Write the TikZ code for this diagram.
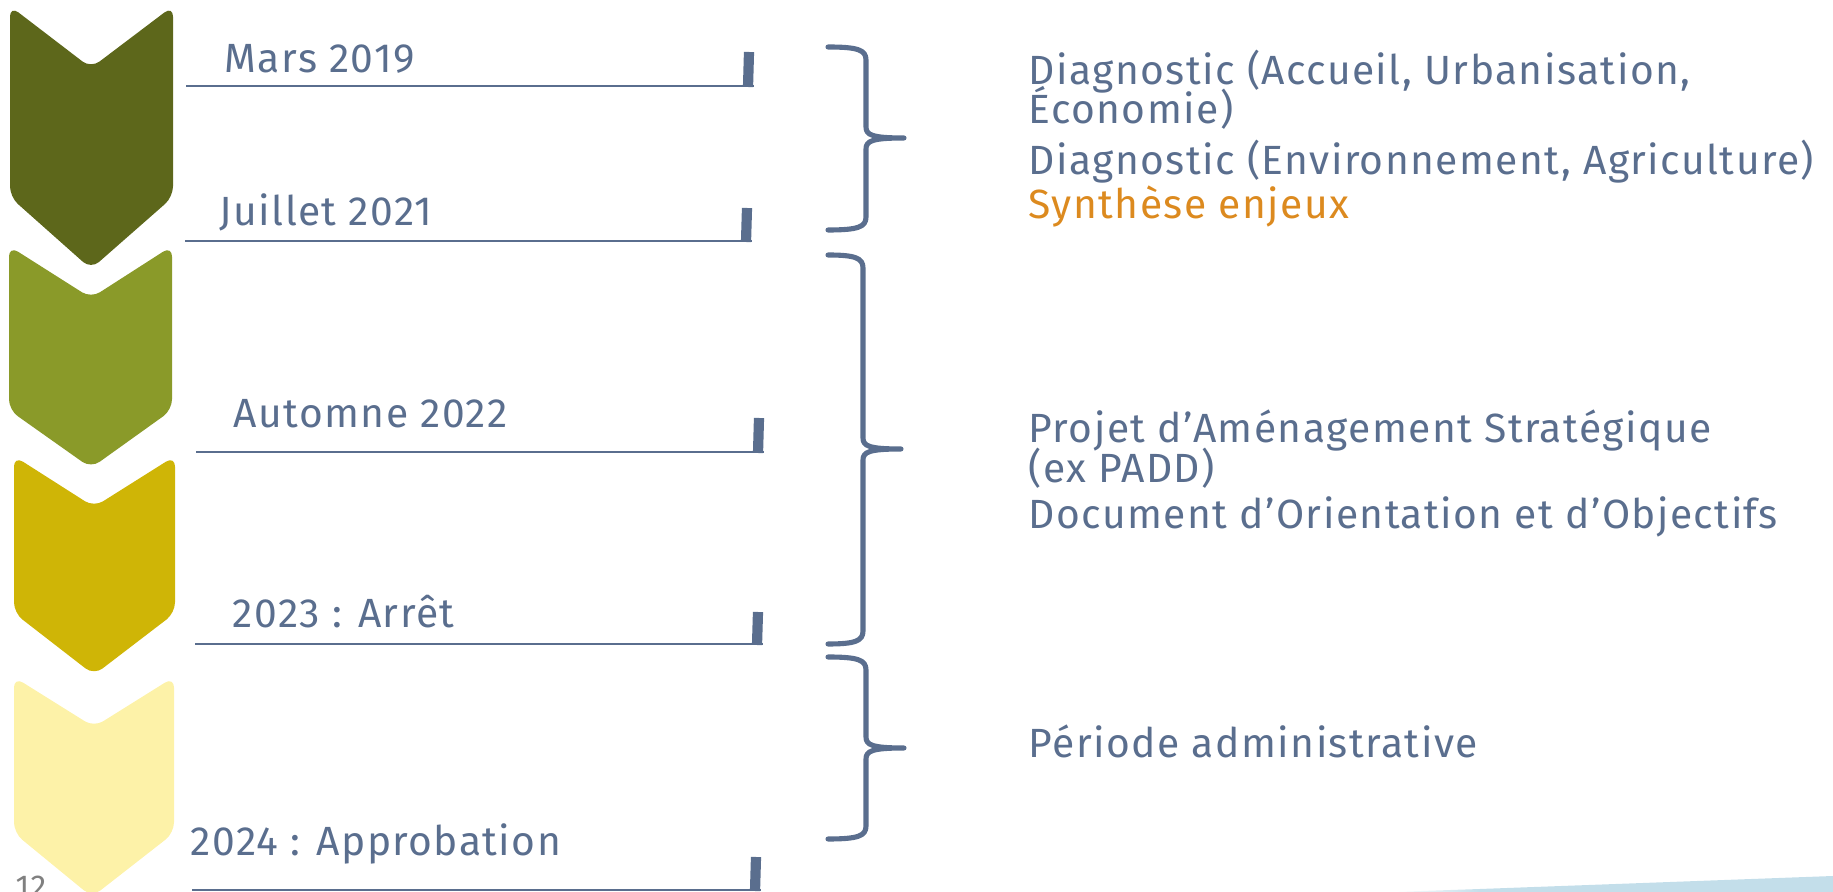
\documentclass[tikz,border=0pt]{standalone}
\usepackage{fontspec}
\setmainfont{Fira Sans}[LetterSpace=3.5]
\definecolor{slate}{HTML}{5A6E8E}
\definecolor{orangetxt}{HTML}{DC8A1F}
\definecolor{olivea}{HTML}{5D671B}
\definecolor{oliveb}{HTML}{8A9A29}
\definecolor{mustard}{HTML}{CFB506}
\definecolor{paleyellow}{HTML}{FDF2A8}
\definecolor{swoosh}{HTML}{C3DEEA}

\begin{document}
\begin{tikzpicture}[x=0.01cm, y=-0.01cm, font=\fontsize{11.6}{13}\selectfont,
  datelbl/.style={anchor=base west, text=slate, inner sep=0pt},
  phase/.style={anchor=base west, text=slate, inner sep=0pt},
  timerule/.style={slate, line width=0.6pt},
  tickbar/.style={slate, line width=2.9pt},
  bracepath/.style={slate, line width=1.45pt, line cap=round, line join=round}]

  \useasboundingbox (0,0) rectangle (1833,892);

  \fill[olivea, rounded corners=3pt] (10,6) -- (91,68) -- (173,6) -- (173,197) -- (91,269) -- (10,197) -- cycle;
  \fill[oliveb, rounded corners=3pt] (9,246) -- (91,298) -- (172,246) -- (172,410) -- (91,468) -- (9,410) -- cycle;
  \fill[mustard, rounded corners=3pt] (14,456) -- (94,507) -- (175,456) -- (175,613) -- (94,675) -- (14,613) -- cycle;
  \fill[paleyellow, rounded corners=3pt] (14,677) -- (94,727) -- (174,677) -- (174,833) -- (92,897) -- (14,833) -- cycle;

  \draw[timerule] (186,86) -- (754,86);
  \draw[tickbar] (748,87) -- (749,52);
  \draw[timerule] (185,241) -- (752,241);
  \draw[tickbar] (746,242) -- (747,208);
  \draw[timerule] (196,452) -- (764,452);
  \draw[tickbar] (758,453) -- (759,418);
  \draw[timerule] (195,644) -- (763,644);
  \draw[tickbar] (757,645) -- (758,612);
  \draw[timerule] (192,890) -- (761,890);
  \draw[tickbar] (755,891) -- (756,857);

  \node[datelbl] (mars) at (224,73) {Mars 2019};
  \node[datelbl] (juillet) at (219,226) {Juillet 2021};
  \node[datelbl] (automne) at (233,428) {Automne 2022};
  \node[datelbl] (arret) at (232,628) {2023 : Arrêt};
  \node[datelbl] (approb) at (190,856) {2024 : Approbation};

  \draw[bracepath] (828,47) .. controls (858,47) and (866,50) .. (866,60) -- (866,127)
    .. controls (866,135) and (872,138) .. (904,138) .. controls (872,138) and (866,141) .. (866,149)
    -- (866,217) .. controls (866,227) and (858,230) .. (828,230);
  \draw[bracepath] (828,255) .. controls (855,255) and (863,258) .. (863,268) -- (863,438)
    .. controls (863,446) and (869,449) .. (901,449) .. controls (869,449) and (863,452) .. (863,460)
    -- (863,631) .. controls (863,641) and (855,644) .. (828,644);
  \draw[bracepath] (828,657) .. controls (858,657) and (866,660) .. (866,670) -- (866,737)
    .. controls (866,745) and (872,748) .. (904,748) .. controls (872,748) and (866,751) .. (866,759)
    -- (866,826) .. controls (866,836) and (858,839) .. (828,839);

  \node[phase] (diaga) at (1028,85) {Diagnostic (Accueil, Urbanisation,};
  \node[phase] (diagb) at (1028,124) {Économie)};
  \node[phase] (diagc) at (1028,175) {Diagnostic (Environnement, Agriculture)};
  \node[phase, text=orangetxt] (synth) at (1028,219) {Synthèse enjeux};

  \node[phase] (pas) at (1028,443) {Projet d’Aménagement Stratégique};
  \node[phase] (padd) at (1028,483) {(ex PADD)};
  \node[phase] (doo) at (1028,529) {Document d’Orientation et d’Objectifs};

  \node[phase] (admin) at (1028,758) {Période administrative};

  \node[anchor=base west, text=gray, inner sep=0pt, font=\fontsize{9}{10}\selectfont] (pnum) at (15,898) {12};

  \fill[swoosh] (1480,889) -- (1833,876) -- (1833,892) -- (1480,892) -- cycle;
  \shade[left color=white, right color=swoosh] (1392,892) -- (1480,889) -- (1480,892) -- cycle;

\end{tikzpicture}
\end{document}
